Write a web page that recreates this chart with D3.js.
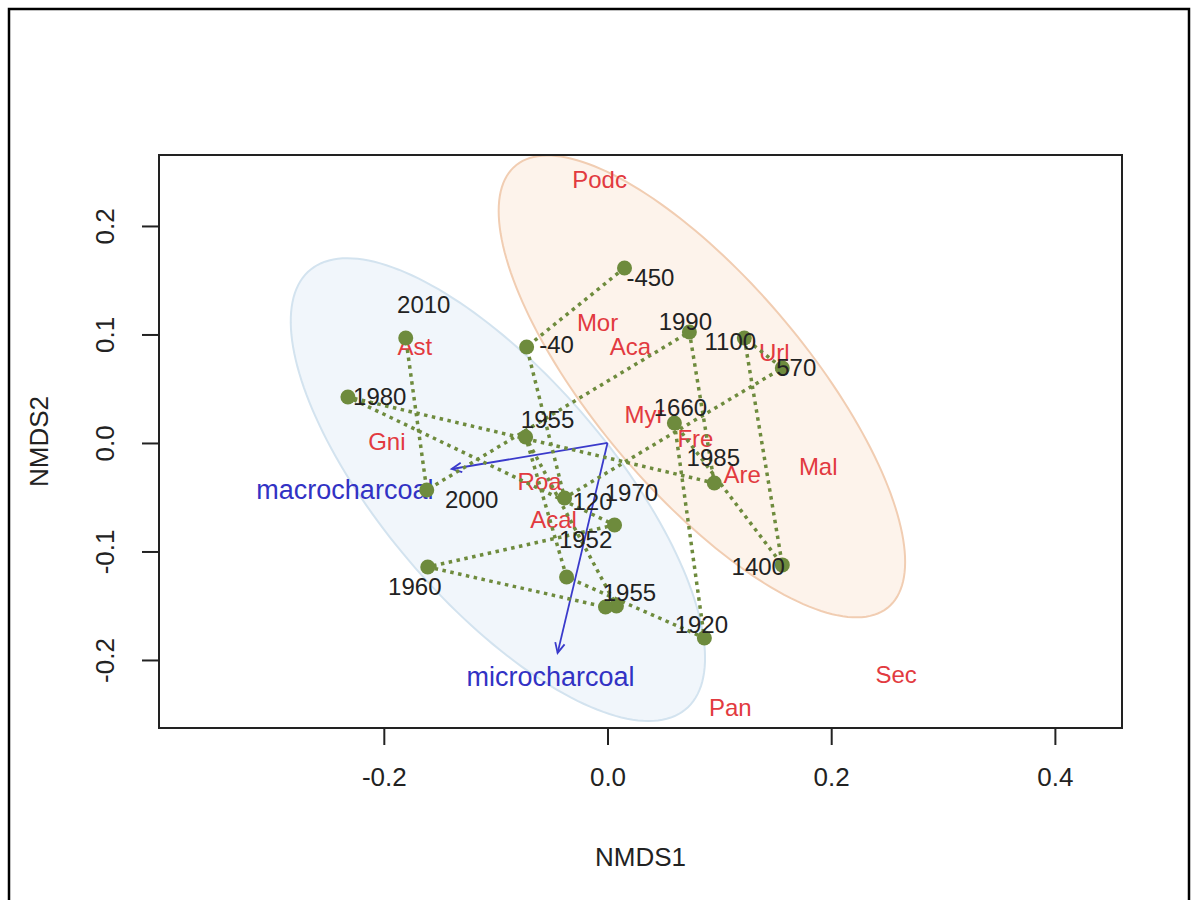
<!DOCTYPE html>
<html>
<head>
<meta charset="utf-8">
<script src="https://cdn.jsdelivr.net/npm/d3@7"></script>
<style>
body { margin: 0; background: #fff; }
text { font-family: "Liberation Sans", Arial, sans-serif; }
</style>
</head>
<body>
<svg id="chart"></svg>
<script>
// axis limits of the ordination plot
var xLimits = [-0.401, 0.46];
var yLimits = [-0.2627, 0.2654];
var xTicks = [-0.2, 0.0, 0.2, 0.4];
var yTicks = [-0.2, -0.1, 0.0, 0.1, 0.2];

// site scores, in time order (the dotted trajectory follows this order)
var siteX = [0.0152, -0.0723, -0.0384, 0.1563, 0.1223, 0.1563, 0.0598, 0.0866, -0.0366, -0.0732,
             0.0080, -0.0018, -0.1607, 0.0063, -0.2321, 0.0955, 0.0732, -0.1616, -0.1804];
var siteY = [0.1613, 0.0885, -0.0507, 0.0691, 0.0968, -0.1124, 0.0184, -0.1797, -0.1235, 0.0055,
             -0.1502, -0.1512, -0.1143, -0.0756, 0.0424, -0.0369, 0.1023, -0.0433, 0.0968];

// year labels of the sites
var yearText = ["2010", "1980", "1955", "2000", "1960", "-40", "-450", "1990", "1100", "570",
                "1660", "1985", "1400", "1920", "120", "1970", "1952", "1955"];
var yearX = [-0.1643, -0.2036, -0.0536, -0.1214, -0.1723, -0.0455, 0.0384, 0.0696, 0.1098, 0.1688,
             0.0652, 0.0946, 0.1348, 0.0839, -0.0134, 0.0214, -0.0196, 0.0196];
var yearY = [0.1272, 0.0424, 0.0212, -0.0525, -0.1327, 0.0903, 0.1521, 0.1115, 0.0931, 0.0691,
             0.0323, -0.0138, -0.1143, -0.1677, -0.0544, -0.0461, -0.0894, -0.1382];

// species scores
var speciesNames = ["Podc", "Mor", "Aca", "Ast", "Url", "Myr", "Fre", "Mal", "Are", "Gni", "Roa", "Acal", "Pan", "Sec"];
var speciesX = [-0.0071, -0.0089, 0.0205, -0.1723, 0.1491, 0.0330, 0.0786, 0.1884, 0.1205, -0.1973, -0.0607, -0.0482, 0.1098, 0.2580];
var speciesY = [0.2424, 0.1106, 0.0885, 0.0885, 0.0829, 0.0258, 0.0037, -0.0221, -0.0295, 0.0009, -0.0359, -0.0710, -0.2442, -0.2138];

// fitted environmental vectors
var envNames = ["macrocharcoal", "microcharcoal"];
var envX = [-0.1393, -0.0446];
var envY = [-0.0240, -0.1935];
var envLabelX = [-0.2348, -0.0509];
var envLabelY = [-0.0433, -0.2157];

// group ellipses (centre, semi axes, angle in degrees)
var ellipseCX = [-0.098, 0.0844];
var ellipseCY = [-0.043, 0.0521];
var ellipseA = [0.263, 0.263];
var ellipseB = [0.103, 0.0956];
var ellipseAngle = [-50.5, -50.9];
var ellipseFill = ["#eef4fa", "#fdf1e8"];
var ellipseStroke = ["#d3e3ef", "#f1cdb2"];

var W = 1198, H = 900;
var box = {left: 159, right: 1122, top: 155, bottom: 728};

var svg = d3.select("#chart").attr("width", W).attr("height", H);

// outer frame
svg.append("rect")
  .attr("x", 9).attr("y", 9)
  .attr("width", 1180).attr("height", 910)
  .attr("fill", "none").attr("stroke", "#000").attr("stroke-width", 2.5);

var x = d3.scaleLinear().domain(xLimits).range([box.left, box.right]);
var y = d3.scaleLinear().domain(yLimits).range([box.bottom, box.top]);

svg.append("clipPath").attr("id", "clip")
  .append("rect")
  .attr("x", box.left).attr("y", box.top)
  .attr("width", box.right - box.left).attr("height", box.bottom - box.top);

var plot = svg.append("g").attr("clip-path", "url(#clip)");

// ellipses
var ellLine = d3.line().x(d => x(d[0])).y(d => y(d[1])).curve(d3.curveLinearClosed);
ellipseCX.forEach(function(cx, i) {
  var a = ellipseA[i], b = ellipseB[i], phi = ellipseAngle[i] * Math.PI / 180;
  var pts = d3.range(0, 2 * Math.PI, Math.PI / 90).map(function(t) {
    return [cx + a * Math.cos(t) * Math.cos(phi) - b * Math.sin(t) * Math.sin(phi),
            ellipseCY[i] + a * Math.cos(t) * Math.sin(phi) + b * Math.sin(t) * Math.cos(phi)];
  });
  plot.append("path")
    .attr("d", ellLine(pts))
    .attr("fill", ellipseFill[i])
    .attr("fill-opacity", 0.85)
    .attr("stroke", ellipseStroke[i])
    .attr("stroke-width", 2);
});

// species names
plot.selectAll(".sp")
  .data(speciesNames)
  .enter()
  .append("text")
  .attr("class", "sp")
  .attr("x", (d, i) => x(speciesX[i]))
  .attr("y", (d, i) => y(speciesY[i]))
  .attr("dy", "0.35em")
  .attr("text-anchor", "middle")
  .attr("font-size", 24)
  .attr("fill", "#e23a40")
  .text(d => d);

// env arrows
var blue = "#3a3acb";
envNames.forEach(function(n, i) {
  var x0 = x(0), y0 = y(0), x1 = x(envX[i]), y1 = y(envY[i]);
  var ang = Math.atan2(y1 - y0, x1 - x0), L = 11, h = 0.45;
  plot.append("line")
    .attr("x1", x0).attr("y1", y0).attr("x2", x1).attr("y2", y1)
    .attr("stroke", blue).attr("stroke-width", 1.8);
  plot.append("path")
    .attr("d", "M" + (x1 - L * Math.cos(ang - h)) + "," + (y1 - L * Math.sin(ang - h)) +
               "L" + x1 + "," + y1 +
               "L" + (x1 - L * Math.cos(ang + h)) + "," + (y1 - L * Math.sin(ang + h)))
    .attr("fill", "none").attr("stroke", blue).attr("stroke-width", 1.8);
  plot.append("text")
    .attr("x", x(envLabelX[i]))
    .attr("y", y(envLabelY[i]))
    .attr("dy", "0.35em")
    .attr("text-anchor", "middle")
    .attr("font-size", 27)
    .attr("fill", "#3232c4")
    .text(n);
});

// trajectory
var green = "#6e8b3d";
var siteLine = d3.line().x(d => x(d[0])).y(d => y(d[1]));
var sites = siteX.map((v, i) => [v, siteY[i]]);
plot.append("path")
  .attr("d", siteLine(sites))
  .attr("fill", "none")
  .attr("stroke", green)
  .attr("stroke-width", 3.5)
  .attr("stroke-dasharray", "3.5,4.5");

plot.selectAll(".site")
  .data(sites)
  .enter()
  .append("circle")
  .attr("class", "site")
  .attr("cx", d => x(d[0]))
  .attr("cy", d => y(d[1]))
  .attr("r", 7.5)
  .attr("fill", green);

plot.selectAll(".yr")
  .data(yearText)
  .enter()
  .append("text")
  .attr("class", "yr")
  .attr("x", (d, i) => x(yearX[i]))
  .attr("y", (d, i) => y(yearY[i]))
  .attr("dy", "0.35em")
  .attr("text-anchor", "middle")
  .attr("font-size", 24)
  .attr("fill", "#222")
  .text(d => d);

// box
svg.append("rect")
  .attr("x", box.left).attr("y", box.top)
  .attr("width", box.right - box.left).attr("height", box.bottom - box.top)
  .attr("fill", "none").attr("stroke", "#222").attr("stroke-width", 2);

var fmt = d => d3.format(".1f")(d).replace("\u2212", "-");

var xAxis = svg.append("g")
  .attr("transform", "translate(0," + box.bottom + ")")
  .call(d3.axisBottom(x).tickValues(xTicks).tickSize(17).tickFormat(fmt));
xAxis.select(".domain").remove();
xAxis.selectAll(".tick line").attr("stroke", "#222").attr("stroke-width", 2);
xAxis.selectAll(".tick text")
  .attr("y", 58).attr("dy", 0)
  .attr("font-size", 26).attr("fill", "#222")
  .style("font-family", "'Liberation Sans', Arial, sans-serif");

var yAxis = svg.append("g")
  .attr("transform", "translate(" + box.left + ",0)")
  .call(d3.axisLeft(y).tickValues(yTicks).tickSize(17).tickFormat(fmt));
yAxis.select(".domain").remove();
yAxis.selectAll(".tick line").attr("stroke", "#222").attr("stroke-width", 2);
yAxis.selectAll(".tick text")
  .attr("x", 0).attr("y", -45).attr("dy", 0)
  .attr("transform", "rotate(-90)")
  .attr("text-anchor", "middle")
  .attr("font-size", 26).attr("fill", "#222")
  .style("font-family", "'Liberation Sans', Arial, sans-serif");

svg.append("text")
  .attr("x", (box.left + box.right) / 2)
  .attr("y", 866)
  .attr("text-anchor", "middle")
  .attr("font-size", 26).attr("fill", "#222")
  .text("NMDS1");

svg.append("text")
  .attr("transform", "translate(48," + ((box.top + box.bottom) / 2) + ") rotate(-90)")
  .attr("text-anchor", "middle")
  .attr("font-size", 26).attr("fill", "#222")
  .text("NMDS2");
</script>
</body>
</html>
